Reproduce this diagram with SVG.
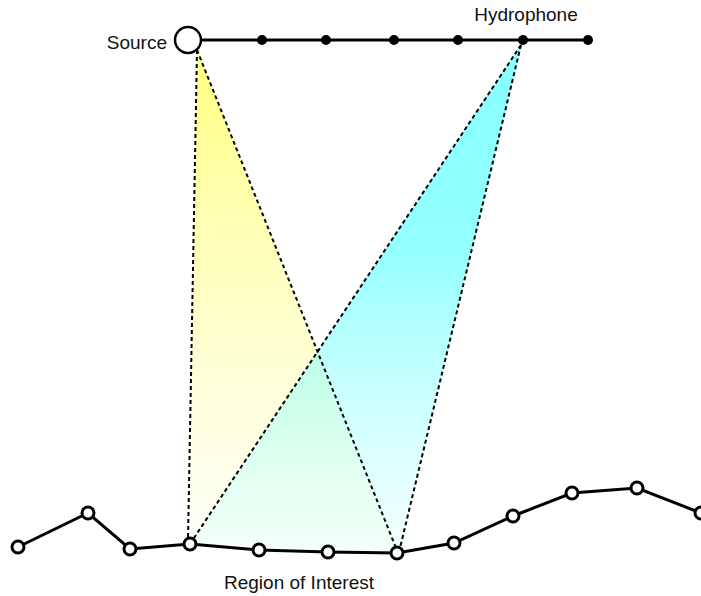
<svg xmlns="http://www.w3.org/2000/svg" width="701" height="596" viewBox="0 0 701 596">
<style>
.lbl{font-family:"Liberation Sans",Arial,sans-serif;font-size:19px;fill:#111}
.beam{fill:none;stroke:#000;stroke-width:2;stroke-dasharray:4 3}
.wire{fill:none;stroke:#000;stroke-width:3}
.hp{fill:#000}
.rn{fill:#fff;stroke:#000;stroke-width:3}
</style>
<defs>
<linearGradient id="gy" x1="0" y1="50" x2="0" y2="550" gradientUnits="userSpaceOnUse">
<stop offset="0" stop-color="#ffff70" stop-opacity="0.9"/>
<stop offset="0.5" stop-color="#ffff90" stop-opacity="0.5"/>
<stop offset="1" stop-color="#ffffa0" stop-opacity="0.05"/>
</linearGradient>
<linearGradient id="gc" x1="0" y1="45" x2="0" y2="550" gradientUnits="userSpaceOnUse">
<stop offset="0" stop-color="#60ffff" stop-opacity="0.75"/>
<stop offset="0.4" stop-color="#70ffff" stop-opacity="0.75"/>
<stop offset="1" stop-color="#a0ffff" stop-opacity="0.12"/>
</linearGradient>
</defs>
<g id="beams">
<polygon points="197,50 188,543 397,552" fill="url(#gy)"/>
<polygon points="522,43 190,544 399,551" fill="url(#gc)"/>
</g>
<g id="connectors">
<line class="beam" x1="197" y1="50" x2="188" y2="540"/>
<line class="beam" x1="197" y1="50" x2="396" y2="548"/>
<line class="beam" x1="521" y1="45" x2="192" y2="541"/>
<line class="beam" x1="521" y1="45" x2="400" y2="548"/>
<line class="wire" x1="200" y1="40" x2="588" y2="40"/>
<polyline class="wire" points="18,547 88,513 130,549 190,544 259,550 328,552 397,553 454,543 513,516 572,493 637,488 701,513"/>
</g>
<g id="source">
<circle cx="188" cy="40" r="13" fill="#fff" stroke="#000" stroke-width="2.5"/>
<text class="lbl" x="167" y="49" text-anchor="end">Source</text>
</g>
<g id="hydrophones">
<circle class="hp" cx="262" cy="40" r="5"/>
<circle class="hp" cx="326" cy="40" r="5"/>
<circle class="hp" cx="394" cy="40" r="5"/>
<circle class="hp" cx="458" cy="40" r="5"/>
<circle class="hp" cx="523" cy="40" r="5"/>
<circle class="hp" cx="588" cy="40" r="5"/>
<text class="lbl" x="526" y="21" text-anchor="middle">Hydrophone</text>
</g>
<g id="region">
<circle class="rn" cx="18" cy="547" r="6"/>
<circle class="rn" cx="88" cy="513" r="6"/>
<circle class="rn" cx="130" cy="549" r="6"/>
<circle class="rn" cx="190" cy="544" r="6"/>
<circle class="rn" cx="259" cy="550" r="6"/>
<circle class="rn" cx="328" cy="552" r="6"/>
<circle class="rn" cx="397" cy="553" r="6"/>
<circle class="rn" cx="454" cy="543" r="6"/>
<circle class="rn" cx="513" cy="516" r="6"/>
<circle class="rn" cx="572" cy="493" r="6"/>
<circle class="rn" cx="637" cy="488" r="6"/>
<circle class="rn" cx="701" cy="513" r="6"/>
<text class="lbl" x="299" y="589" text-anchor="middle">Region of Interest</text>
</g>
</svg>
